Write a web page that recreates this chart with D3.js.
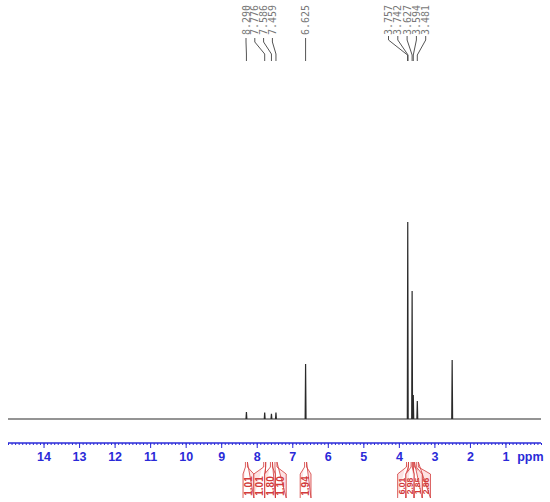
<!DOCTYPE html>
<html><head><meta charset="utf-8">
<script src="https://cdn.jsdelivr.net/npm/d3@7"></script>
<style>body{margin:0;background:#fff}svg{display:block}</style>
</head><body>
<svg id="c" width="550" height="502"></svg>
<script>
// Peak list (ppm, relative intensity)
const peakPpm = [8.290, 7.776, 7.586, 7.459, 6.625, 3.750, 3.627, 3.594, 3.481, 2.500];
const peakHeight = [3.5, 3.2, 2.6, 3.2, 27.5, 98.5, 64, 12, 9, 29.5];
// Labelled shifts at top
const leftLabels = ["8.290", "7.776", "7.586", "7.459", "6.625"];
const rightLabels = ["3.757", "3.742", "3.627", "3.594", "3.481"];
// Integrals
const integralValues = ["1.01", "1.01", "1.80", "1.10", "1.94", "6.01", "2.98", "1.85", "2.86"];
const integralPpm = [8.290, 7.776, 7.586, 7.459, 6.625, 3.757, 3.627, 3.594, 3.481];
const integralGroup = [0, 0, 0, 0, 1, 2, 2, 2, 2];
// Axis ticks
const majorTicks = [14, 13, 12, 11, 10, 9, 8, 7, 6, 5, 4, 3, 2, 1];

const svg = d3.select("#c");
const x = d3.scaleLinear().domain([15, 0]).range([8, 541]);
const y = d3.scaleLinear().domain([0, 100]).range([419, 219]);

// spectrum trace
const pts = [[15, 0]];
const order = d3.range(peakPpm.length).sort((a, b) => peakPpm[b] - peakPpm[a]);
order.forEach(i => {
  const w = 0.012;
  pts.push([peakPpm[i] + w, 0], [peakPpm[i], peakHeight[i]], [peakPpm[i] - w, 0]);
});
pts.push([0, 0]);
svg.append("path")
  .attr("d", d3.line().x(d => x(d[0])).y(d => y(d[1]))(pts))
  .attr("fill", "none").attr("stroke", "#2a2a2a").attr("stroke-width", 1.2);

// axis
const axisY = 443;
const blue = "#2a2ad8";
const minor = d3.range(0, 151).map(v => v / 10);
const gMinor = svg.append("g").attr("transform", `translate(0,${axisY})`)
  .call(d3.axisBottom(x).tickValues(minor).tickSize(2).tickFormat(""));
const gMajor = svg.append("g").attr("transform", `translate(0,${axisY})`)
  .call(d3.axisBottom(x).tickValues(majorTicks).tickSize(5).tickPadding(4).tickFormat(d3.format("d")));
[gMinor, gMajor].forEach(g => {
  g.select(".domain").attr("stroke", blue).attr("d", `M${x(15)},0H${x(0)}`);
  g.selectAll(".tick line").attr("stroke", blue);
});
gMajor.selectAll(".tick text").attr("fill", blue)
  .style("font", "bold 12.5px 'Liberation Sans', Arial, sans-serif");
svg.append("text").attr("x", x(0.3)).attr("y", axisY + 9).attr("dy", "0.71em")
  .attr("text-anchor", "middle").attr("fill", blue)
  .style("font", "bold 12.5px 'Liberation Sans', Arial, sans-serif").text("ppm");

// top labels
function labelGroup(labels, ppms, startX, step, slantTop, slantBot) {
  labels.forEach((t, i) => {
    const lx = startX + i * step;
    svg.append("text")
      .attr("transform", `translate(${lx},35) rotate(-90)`)
      .attr("dy", "0.35em").attr("fill", "#777")
      .style("font", "10px 'DejaVu Sans Mono', monospace").text(t);
    const px = x(ppms[i]);
    svg.append("path")
      .attr("d", `M${lx},${slantTop - 4}V${slantTop}L${px},${slantBot}V61`)
      .attr("fill", "none").attr("stroke", "#555").attr("stroke-width", 1);
  });
}
const leftPpm = leftLabels.map(Number);
labelGroup(leftLabels.slice(0, 4), leftPpm.slice(0, 4), 246, 8.8, 42, 54);
labelGroup([leftLabels[4]], [leftPpm[4]], x(leftPpm[4]), 0, 42, 54);
labelGroup(rightLabels, rightLabels.map(Number), 388.5, 9.3, 40, 55);

// integrals
const groups = d3.groups(d3.range(integralValues.length), i => integralGroup[i]);
const red = "#d23a3a";
groups.forEach(([g, idx]) => {
  const w = g === 2 ? 8.2 : 10.8;
  const fs = g === 2 ? 8.6 : 10;
  const mean = d3.mean(idx, i => x(integralPpm[i])) + (g === 2 ? 1.5 : 0);
  const left = mean - w * idx.length / 2;
  idx.forEach((i, k) => {
    const bl = left + k * w, br = bl + w, sx = x(integralPpm[i]);
    svg.append("path")
      .attr("d", `M${bl},498V474L${sx - 1},467V462M${sx + 1},462V467L${br},474V498Z`)
      .attr("fill", "#fde3e3").attr("stroke", red).attr("stroke-width", 0.8);
    svg.append("text")
      .attr("transform", `translate(${bl + w / 2},486) rotate(-90)`)
      .attr("text-anchor", "middle").attr("dy", "0.36em").attr("fill", red)
      .style("font", `bold ${fs}px 'Liberation Sans', Arial, sans-serif`)
      .text(integralValues[i]);
  });
});
</script>
</body></html>
